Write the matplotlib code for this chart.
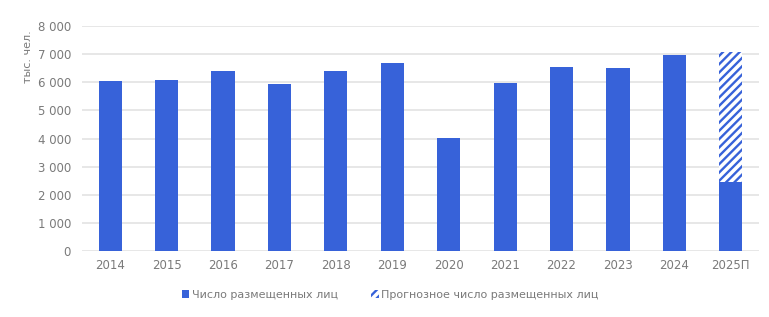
import numpy as np
import matplotlib.pyplot as plt
from matplotlib.patches import Patch

years = ['2014', '2015', '2016', '2017', '2018', '2019', '2020', '2021',
         '2022', '2023', '2024', '2025П']
placed = [6050, 6090, 6410, 5950, 6410, 6700, 4030, 5990, 6560, 6520, 6960, 2460]
forecast_year = '2025П'
forecast_total = 7090

blue = '#3762d9'
grey = '#7a7a7a'

plt.rcParams['font.family'] = ['DejaVu Sans']
plt.rcParams['hatch.linewidth'] = 1.7
plt.rcParams['hatch.color'] = blue

fig = plt.figure(figsize=(7.69, 3.17), dpi=100)
ax = fig.add_axes([82/769, 1-251/317, 677/769, 225/317])

x = np.arange(len(years))
ax.bar(x, placed, width=0.41, color=blue, zorder=3)
# прогноз - штриховка поверх фактической части
i = years.index(forecast_year)
ax.bar(x[i], forecast_total - placed[i], bottom=placed[i], width=0.41,
       facecolor='white', edgecolor=blue, linewidth=0, hatch='////', zorder=3)

ax.set_xlim(-0.5, len(years) - 0.5)
ax.set_ylim(0, 8000)
ax.set_yticks(np.arange(0, 8001, 1000))
ax.set_yticklabels(['0'] + ['{} 000'.format(v) for v in range(1, 9)])
ax.set_xticks(x)
ax.set_xticklabels(years)
ax.grid(axis='y', color='#e3e3e3', linewidth=1.2, zorder=0)
for s in ax.spines.values():
    s.set_visible(False)
ax.tick_params(length=0, labelsize=8.5, colors=grey, pad=8)
ax.tick_params(axis='x', pad=6)
fig.text(28/769, 1-30/317, 'тыс. чел.', rotation=90, ha='center', va='top',
         fontsize=8, color=grey)

handles = [Patch(facecolor=blue, edgecolor='none'),
           Patch(facecolor='white', edgecolor=blue, linewidth=0, hatch='////')]
fig.legend(handles, ['Число размещенных лиц', 'Прогнозное число размещенных лиц'],
           loc='center', bbox_to_anchor=(390/769, 1-295/317), ncol=2, frameon=False,
           fontsize=8, labelcolor=grey, handlelength=0.7, handleheight=0.7,
           handletextpad=0.2, columnspacing=3.0)

fig.savefig('out.png', dpi=100)
